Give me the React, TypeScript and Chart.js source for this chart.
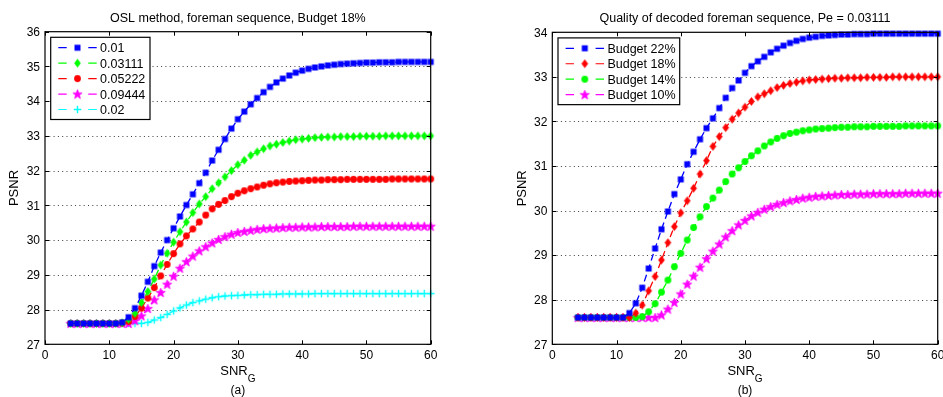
import React, { useEffect, useRef } from "react";
import { Chart, registerables } from "chart.js";

Chart.register(...registerables);

const FONT = '"Liberation Sans", Arial, Helvetica, sans-serif';

// Channel SNR_G sample points (dB), shared by every curve
const snrG = [
  4, 5, 6, 7, 8, 9, 10, 11, 12, 13, 14, 15, 16, 17, 18, 19, 20, 21, 22, 23,
  24, 25, 26, 27, 28, 29, 30, 31, 32, 33, 34, 35, 36, 37, 38, 39, 40, 41, 42,
  43, 44, 45, 46, 47, 48, 49, 50, 51, 52, 53, 54, 55, 56, 57, 58, 59, 60,
];

const xTicks = [0, 10, 20, 30, 40, 50, 60];
const yTicksA = [27, 28, 29, 30, 31, 32, 33, 34, 35, 36];
const yTicksB = [27, 28, 29, 30, 31, 32, 33, 34];

// (a) OSL method, foreman, budget 18% — PSNR per error probability
const pe0_01 = [
  27.6, 27.6, 27.6, 27.6, 27.6, 27.6, 27.6, 27.6,
  27.63, 27.78, 28.04, 28.4, 28.8, 29.25, 29.64, 30.0, 30.34, 30.68,
  31.01, 31.32, 31.64, 31.94, 32.29, 32.6, 32.91, 33.21, 33.48, 33.7,
  33.91, 34.09, 34.26, 34.41, 34.54, 34.65, 34.74, 34.82, 34.88, 34.93,
  34.97, 35.0, 35.03, 35.05, 35.07, 35.08, 35.09, 35.1, 35.11, 35.11,
  35.12, 35.12, 35.12, 35.13, 35.13, 35.13, 35.13, 35.13, 35.13,
];
const pe0_03111 = [
  27.6, 27.6, 27.6, 27.6, 27.6, 27.6, 27.6, 27.6,
  27.62, 27.72, 27.89, 28.2, 28.52, 28.88, 29.28, 29.62, 29.94, 30.24,
  30.52, 30.79, 31.04, 31.25, 31.48, 31.65, 31.82, 32.0, 32.17, 32.3,
  32.44, 32.54, 32.63, 32.71, 32.76, 32.81, 32.85, 32.89, 32.91, 32.93,
  32.95, 32.96, 32.97, 32.97, 32.98, 32.98, 32.98, 32.99, 32.99, 32.99,
  32.99, 33.0, 33.0, 33.0, 33.0, 33.0, 33.0, 33.0, 33.0,
];
const pe0_05222 = [
  27.6, 27.6, 27.6, 27.6, 27.6, 27.6, 27.6, 27.6,
  27.61, 27.66, 27.8, 28.04, 28.33, 28.63, 28.97, 29.3, 29.61, 29.89,
  30.12, 30.32, 30.52, 30.72, 30.9, 31.03, 31.14, 31.25, 31.35, 31.42,
  31.48, 31.53, 31.58, 31.62, 31.65, 31.67, 31.69, 31.7, 31.71, 31.72,
  31.73, 31.73, 31.74, 31.74, 31.74, 31.75, 31.75, 31.75, 31.75, 31.75,
  31.75, 31.75, 31.76, 31.76, 31.76, 31.76, 31.76, 31.76, 31.76,
];
const pe0_09444 = [
  27.6, 27.6, 27.6, 27.6, 27.6, 27.6, 27.6, 27.6, 27.6, 27.6,
  27.68, 27.82, 28.03, 28.28, 28.49, 28.73, 28.96, 29.19, 29.38, 29.54,
  29.69, 29.81, 29.92, 30.02, 30.1, 30.17, 30.22, 30.25, 30.28, 30.31,
  30.33, 30.34, 30.35, 30.36, 30.37, 30.37, 30.38, 30.38, 30.38, 30.39,
  30.39, 30.39, 30.39, 30.39, 30.4, 30.4, 30.4, 30.4, 30.4, 30.4,
  30.4, 30.4, 30.4, 30.4, 30.4, 30.4, 30.4,
];
const pe0_02 = [
  27.6, 27.6, 27.6, 27.6, 27.6, 27.6, 27.6, 27.6, 27.6, 27.6, 27.6,
  27.6, 27.63, 27.7, 27.77, 27.86, 27.96, 28.05, 28.13, 28.2, 28.25,
  28.3, 28.34, 28.37, 28.39, 28.4, 28.41, 28.42, 28.43, 28.43, 28.44,
  28.44, 28.44, 28.45, 28.45, 28.45, 28.45, 28.45, 28.46, 28.46, 28.46,
  28.46, 28.46, 28.46, 28.46, 28.46, 28.46, 28.46, 28.46, 28.46, 28.46,
  28.46, 28.46, 28.46, 28.46, 28.46, 28.46,
];

// (b) decoded foreman quality at Pe = 0.03111 — PSNR per budget
const budget22 = [
  27.6, 27.6, 27.6, 27.6, 27.6, 27.6, 27.6, 27.6,
  27.7, 27.92, 28.27, 28.7, 29.15, 29.58, 29.98, 30.37, 30.7, 31.04,
  31.32, 31.6, 31.85, 32.07, 32.3, 32.53, 32.75, 32.92, 33.09, 33.24,
  33.35, 33.45, 33.55, 33.63, 33.7, 33.76, 33.81, 33.85, 33.88, 33.9,
  33.92, 33.93, 33.94, 33.95, 33.95, 33.96, 33.96, 33.96, 33.97, 33.97,
  33.97, 33.97, 33.97, 33.97, 33.97, 33.97, 33.97, 33.97, 33.97,
];
const budget18 = [
  27.6, 27.6, 27.6, 27.6, 27.6, 27.6, 27.6, 27.6, 27.6,
  27.7, 27.88, 28.2, 28.52, 28.89, 29.28, 29.64, 29.95, 30.22,
  30.5, 30.82, 31.12, 31.44, 31.66, 31.86, 32.05, 32.19, 32.32, 32.45,
  32.55, 32.62, 32.69, 32.76, 32.81, 32.85, 32.88, 32.91, 32.93, 32.94,
  32.95, 32.96, 32.97, 32.97, 32.98, 32.98, 32.98, 32.99, 32.99, 32.99,
  32.99, 33.0, 33.0, 33.0, 33.0, 33.0, 33.0, 33.0, 33.0,
];
const budget14 = [
  27.6, 27.6, 27.6, 27.6, 27.6, 27.6, 27.6, 27.6, 27.6, 27.6, 27.62,
  27.73, 27.91, 28.17, 28.44, 28.74, 29.04, 29.34,
  29.62, 29.86, 30.09, 30.28, 30.46, 30.65, 30.82, 30.96, 31.1, 31.23,
  31.34, 31.45, 31.54, 31.62, 31.68, 31.73, 31.76, 31.79, 31.81, 31.83,
  31.84, 31.85, 31.86, 31.87, 31.87, 31.88, 31.88, 31.88, 31.89, 31.89,
  31.89, 31.89, 31.89, 31.9, 31.9, 31.9, 31.9, 31.9, 31.9,
];
const budget10 = [
  27.6, 27.6, 27.6, 27.6, 27.6, 27.6, 27.6, 27.6, 27.6, 27.6, 27.6, 27.6, 27.6,
  27.66, 27.79, 27.94, 28.13, 28.35,
  28.53, 28.73, 28.92, 29.09, 29.25, 29.41, 29.55, 29.68, 29.78, 29.88,
  29.96, 30.03, 30.09, 30.14, 30.18, 30.22, 30.25, 30.28, 30.3, 30.32,
  30.33, 30.34, 30.35, 30.36, 30.36, 30.37, 30.37, 30.37, 30.38, 30.38,
  30.38, 30.38, 30.38, 30.39, 30.39, 30.39, 30.39, 30.39, 30.39,
];

type Marker = "square" | "diamond" | "circle" | "star" | "plus";

interface Series {
  label: string;
  color: string;
  marker: Marker;
  values: number[];
}

interface PanelSpec {
  title: string;
  caption: string;
  yTicks: number[];
  series: Series[];
  canvasLeft: number;
  canvasWidth: number;
  area: { left: number; right: number; top: number; bottom: number };
  yTitleX: number;
  legendWidth: number;
}

const panelA: PanelSpec = {
  title: "OSL method, foreman sequence, Budget 18%",
  caption: "(a)",
  yTicks: yTicksA,
  series: [
    { label: "0.01", color: "#0000ff", marker: "square", values: pe0_01 },
    { label: "0.03111", color: "#00ff00", marker: "diamond", values: pe0_03111 },
    { label: "0.05222", color: "#ff0000", marker: "circle", values: pe0_05222 },
    { label: "0.09444", color: "#ff00ff", marker: "star", values: pe0_09444 },
    { label: "0.02", color: "#00ffff", marker: "plus", values: pe0_02 },
  ],
  canvasLeft: 0,
  canvasWidth: 470,
  area: { left: 45, right: 430.7, top: 31.7, bottom: 344.3 },
  yTitleX: 13,
  legendWidth: 99.3,
};

const panelB: PanelSpec = {
  title: "Quality of decoded foreman sequence, Pe = 0.03111",
  caption: "(b)",
  yTicks: yTicksB,
  series: [
    { label: "Budget 22%", color: "#0000ff", marker: "square", values: budget22 },
    { label: "Budget 18%", color: "#ff0000", marker: "diamond", values: budget18 },
    { label: "Budget 14%", color: "#00ff00", marker: "circle", values: budget14 },
    { label: "Budget 10%", color: "#ff00ff", marker: "star", values: budget10 },
  ],
  canvasLeft: 470,
  canvasWidth: 473,
  area: { left: 82.3, right: 467.7, top: 32.3, bottom: 344.3 },
  yTitleX: 51,
  legendWidth: 121.7,
};

const HEIGHT = 397;

// Small bitmap glyphs used as point styles and legend symbols
function makeMarker(kind: Marker, color: string): HTMLCanvasElement {
  const size = 13;
  const c = document.createElement("canvas");
  c.width = size;
  c.height = size;
  const g = c.getContext("2d")!;
  const m = size / 2;
  g.fillStyle = color;
  g.strokeStyle = color;
  g.lineWidth = 1;
  g.beginPath();
  if (kind === "square") {
    g.rect(m - 3, m - 3, 6, 6);
    g.fill();
  } else if (kind === "circle") {
    g.arc(m, m, 3.4, 0, Math.PI * 2);
    g.fill();
  } else if (kind === "diamond") {
    g.moveTo(m, m - 4.1);
    g.lineTo(m + 3.1, m);
    g.lineTo(m, m + 4.1);
    g.lineTo(m - 3.1, m);
    g.closePath();
    g.fill();
    g.lineWidth = 0.5;
    g.stroke();
  } else if (kind === "star") {
    for (let i = 0; i < 10; i++) {
      const r = i % 2 === 0 ? 4.9 : 2.1;
      const a = -Math.PI / 2 + (i * Math.PI) / 5;
      const px = m + r * Math.cos(a);
      const py = m + 0.4 + r * Math.sin(a);
      if (i === 0) g.moveTo(px, py);
      else g.lineTo(px, py);
    }
    g.closePath();
    g.fill();
    g.lineWidth = 0.7;
    g.stroke();
  } else {
    g.lineWidth = 1.4;
    g.moveTo(m - 3.8, m);
    g.lineTo(m + 3.8, m);
    g.moveTo(m, m - 3.8);
    g.lineTo(m, m + 3.8);
    g.stroke();
  }
  return c;
}

function decorPlugin(spec: PanelSpec, glyphs: HTMLCanvasElement[]) {
  return {
    id: "panelDecor",
    beforeDatasetsDraw(chart: any) {
      const { ctx, chartArea: a } = chart;
      const ys = chart.scales.y;
      ctx.save();
      ctx.strokeStyle = "#3c3c3c";
      ctx.lineWidth = 1;
      ctx.setLineDash([1, 3.3]);
      const lo = spec.yTicks[0];
      const hi = spec.yTicks[spec.yTicks.length - 1];
      for (const v of spec.yTicks) {
        if (v <= lo || v >= hi) continue;
        const y = Math.round(ys.getPixelForValue(v)) + 0.5;
        ctx.beginPath();
        ctx.moveTo(a.left, y);
        ctx.lineTo(a.right, y);
        ctx.stroke();
      }
      ctx.restore();
    },
    afterDatasetsDraw(chart: any) {
      const { ctx, chartArea: a } = chart;
      const xs = chart.scales.x;
      const ys = chart.scales.y;
      ctx.save();
      ctx.setLineDash([]);
      ctx.strokeStyle = "#000";
      ctx.lineWidth = 1.2;
      ctx.strokeRect(a.left, a.top, a.right - a.left, a.bottom - a.top);

      // inward tick marks on all four sides
      ctx.lineWidth = 1;
      ctx.beginPath();
      for (const v of xTicks) {
        const x = Math.round(xs.getPixelForValue(v)) + 0.5;
        ctx.moveTo(x, a.bottom);
        ctx.lineTo(x, a.bottom - 4);
        ctx.moveTo(x, a.top);
        ctx.lineTo(x, a.top + 4);
      }
      for (const v of spec.yTicks) {
        const y = Math.round(ys.getPixelForValue(v)) + 0.5;
        ctx.moveTo(a.left, y);
        ctx.lineTo(a.left + 4, y);
        ctx.moveTo(a.right, y);
        ctx.lineTo(a.right - 4, y);
      }
      ctx.stroke();

      // tick labels
      ctx.fillStyle = "#000";
      ctx.font = `12px ${FONT}`;
      ctx.textBaseline = "alphabetic";
      ctx.textAlign = "center";
      for (const v of xTicks) {
        ctx.fillText(String(v), xs.getPixelForValue(v), 358.5);
      }
      ctx.textAlign = "right";
      for (const v of spec.yTicks) {
        ctx.fillText(String(v), a.left - 5, ys.getPixelForValue(v) + 4.3);
      }

      // title
      const cx = (a.left + a.right) / 2;
      ctx.textAlign = "center";
      ctx.font = `12.5px ${FONT}`;
      ctx.fillText(spec.title, cx, 21.8);

      // x-axis label with subscript
      ctx.font = `13px ${FONT}`;
      const main = "SNR";
      const wMain = ctx.measureText(main).width;
      ctx.font = `10px ${FONT}`;
      const wSub = ctx.measureText("G").width;
      const x0 = cx - (wMain + wSub) / 2;
      ctx.textAlign = "left";
      ctx.font = `13px ${FONT}`;
      ctx.fillText(main, x0, 375);
      ctx.font = `10px ${FONT}`;
      ctx.fillText("G", x0 + wMain, 381.8);

      // panel caption
      ctx.textAlign = "center";
      ctx.font = `12px ${FONT}`;
      ctx.fillText(spec.caption, cx, 394);

      // y-axis label
      ctx.save();
      ctx.font = `13px ${FONT}`;
      ctx.translate(spec.yTitleX + 4.7, (a.top + a.bottom) / 2);
      ctx.rotate(-Math.PI / 2);
      ctx.textAlign = "center";
      ctx.fillText("PSNR", 0, 0);
      ctx.restore();

      // legend
      const bx = a.left + 5.7;
      const by = a.top + 5.6;
      const rowH = 15.45;
      const bh = 10.4 * 2 + rowH * (spec.series.length - 1) - 0.4;
      ctx.fillStyle = "#fff";
      ctx.fillRect(bx, by, spec.legendWidth, bh);
      ctx.strokeStyle = "#000";
      ctx.lineWidth = 1.2;
      ctx.strokeRect(bx, by, spec.legendWidth, bh);
      ctx.font = `12.5px ${FONT}`;
      ctx.textAlign = "left";
      spec.series.forEach((s, i) => {
        const ry = by + 10.4 + i * rowH;
        ctx.strokeStyle = s.color;
        ctx.lineWidth = 1.2;
        ctx.beginPath();
        ctx.moveTo(bx + 7.6, ry);
        ctx.lineTo(bx + 16, ry);
        ctx.moveTo(bx + 37.6, ry);
        ctx.lineTo(bx + 46, ry);
        ctx.stroke();
        const gl = glyphs[i];
        ctx.drawImage(gl, bx + 26.8 - gl.width / 2, ry - gl.height / 2);
        ctx.fillStyle = "#000";
        ctx.fillText(s.label, bx + 49.4, ry + 4.5);
      });
      ctx.restore();
    },
  };
}

function Panel({ spec }: { spec: PanelSpec }) {
  const ref = useRef<HTMLCanvasElement>(null);

  useEffect(() => {
    const canvas = ref.current;
    if (!canvas) return;
    const glyphs = spec.series.map((s) => makeMarker(s.marker, s.color));
    const lo = spec.yTicks[0];
    const hi = spec.yTicks[spec.yTicks.length - 1];
    const chart = new Chart(canvas, {
      type: "line",
      data: {
        datasets: spec.series.map((s, i) => ({
          label: s.label,
          data: snrG.map((x, k) => ({ x, y: s.values[k] })),
          borderColor: s.color,
          backgroundColor: s.color,
          borderWidth: 1.3,
          borderDash: [7, 4],
          fill: false,
          tension: 0,
          pointStyle: glyphs[i] as any,
          pointRadius: 4,
          clip: false as any,
        })),
      },
      options: {
        animation: false,
        responsive: false,
        maintainAspectRatio: false,
        events: [],
        layout: {
          padding: {
            left: spec.area.left,
            right: spec.canvasWidth - spec.area.right,
            top: spec.area.top,
            bottom: HEIGHT - spec.area.bottom,
          },
        },
        plugins: {
          legend: { display: false },
          title: { display: false },
          tooltip: { enabled: false },
        },
        scales: {
          x: {
            type: "linear",
            min: xTicks[0],
            max: xTicks[xTicks.length - 1],
            ticks: { display: false, stepSize: 10 },
            grid: { display: false, drawTicks: false },
            border: { display: false },
          },
          y: {
            type: "linear",
            min: lo,
            max: hi,
            ticks: { display: false, stepSize: 1 },
            grid: { display: false, drawTicks: false },
            border: { display: false },
          },
        },
      },
      plugins: [decorPlugin(spec, glyphs)],
    });
    return () => chart.destroy();
  }, [spec]);

  return (
    <canvas
      ref={ref}
      width={spec.canvasWidth}
      height={HEIGHT}
      style={{
        position: "absolute",
        left: spec.canvasLeft,
        top: 0,
        width: spec.canvasWidth,
        height: HEIGHT,
      }}
    />
  );
}

export default function App() {
  return (
    <div
      style={{
        position: "fixed",
        left: 0,
        top: 0,
        width: 943,
        height: HEIGHT,
        overflow: "hidden",
        background: "#fff",
      }}
    >
      <Panel spec={panelA} />
      <Panel spec={panelB} />
    </div>
  );
}
